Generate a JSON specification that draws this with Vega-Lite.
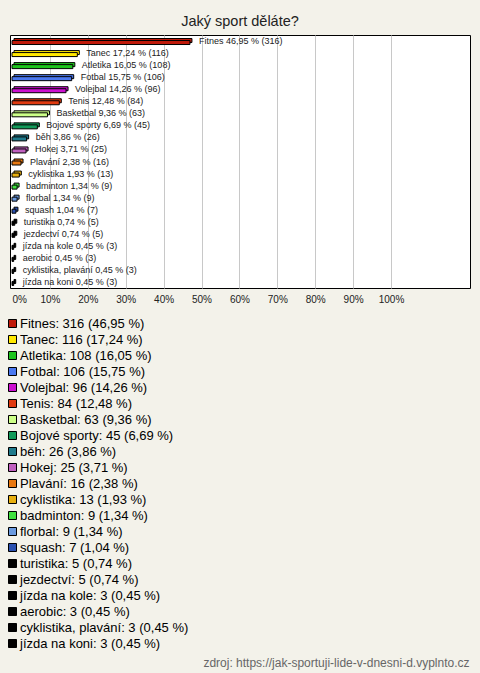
{
  "$schema": "https://vega.github.io/schema/vega-lite/v6.json",
  "autosize": {"type": "none"},
  "width": 460,
  "height": 253,
  "padding": {"left": 10, "top": 35, "right": 10, "bottom": 385},
  "background": "#f3f2ea",
  "title": {
    "text": "Jaký sport děláte?",
    "fontSize": 14.5,
    "fontWeight": "normal",
    "color": "#222222",
    "anchor": "middle",
    "baseline": "alphabetic",
    "offset": -5
  },
  "data": {
    "values": [
      {"rank": 1, "sport": "Fitnes", "count": 316, "pct": 0.4695, "barLabel": "Fitnes 46,95 % (316)", "legend": "Fitnes: 316 (46,95 %)"},
      {"rank": 2, "sport": "Tanec", "count": 116, "pct": 0.1724, "barLabel": "Tanec 17,24 % (116)", "legend": "Tanec: 116 (17,24 %)"},
      {"rank": 3, "sport": "Atletika", "count": 108, "pct": 0.1605, "barLabel": "Atletika 16,05 % (108)", "legend": "Atletika: 108 (16,05 %)"},
      {"rank": 4, "sport": "Fotbal", "count": 106, "pct": 0.1575, "barLabel": "Fotbal 15,75 % (106)", "legend": "Fotbal: 106 (15,75 %)"},
      {"rank": 5, "sport": "Volejbal", "count": 96, "pct": 0.1426, "barLabel": "Volejbal 14,26 % (96)", "legend": "Volejbal: 96 (14,26 %)"},
      {"rank": 6, "sport": "Tenis", "count": 84, "pct": 0.1248, "barLabel": "Tenis 12,48 % (84)", "legend": "Tenis: 84 (12,48 %)"},
      {"rank": 7, "sport": "Basketbal", "count": 63, "pct": 0.0936, "barLabel": "Basketbal 9,36 % (63)", "legend": "Basketbal: 63 (9,36 %)"},
      {"rank": 8, "sport": "Bojové sporty", "count": 45, "pct": 0.0669, "barLabel": "Bojové sporty 6,69 % (45)", "legend": "Bojové sporty: 45 (6,69 %)"},
      {"rank": 9, "sport": "běh", "count": 26, "pct": 0.0386, "barLabel": "běh 3,86 % (26)", "legend": "běh: 26 (3,86 %)"},
      {"rank": 10, "sport": "Hokej", "count": 25, "pct": 0.0371, "barLabel": "Hokej 3,71 % (25)", "legend": "Hokej: 25 (3,71 %)"},
      {"rank": 11, "sport": "Plavání", "count": 16, "pct": 0.0238, "barLabel": "Plavání 2,38 % (16)", "legend": "Plavání: 16 (2,38 %)"},
      {"rank": 12, "sport": "cyklistika", "count": 13, "pct": 0.0193, "barLabel": "cyklistika 1,93 % (13)", "legend": "cyklistika: 13 (1,93 %)"},
      {"rank": 13, "sport": "badminton", "count": 9, "pct": 0.0134, "barLabel": "badminton 1,34 % (9)", "legend": "badminton: 9 (1,34 %)"},
      {"rank": 14, "sport": "florbal", "count": 9, "pct": 0.0134, "barLabel": "florbal 1,34 % (9)", "legend": "florbal: 9 (1,34 %)"},
      {"rank": 15, "sport": "squash", "count": 7, "pct": 0.0104, "barLabel": "squash 1,04 % (7)", "legend": "squash: 7 (1,04 %)"},
      {"rank": 16, "sport": "turistika", "count": 5, "pct": 0.0074, "barLabel": "turistika 0,74 % (5)", "legend": "turistika: 5 (0,74 %)"},
      {"rank": 17, "sport": "jezdectví", "count": 5, "pct": 0.0074, "barLabel": "jezdectví 0,74 % (5)", "legend": "jezdectví: 5 (0,74 %)"},
      {"rank": 18, "sport": "jízda na kole", "count": 3, "pct": 0.0045, "barLabel": "jízda na kole 0,45 % (3)", "legend": "jízda na kole: 3 (0,45 %)"},
      {"rank": 19, "sport": "aerobic", "count": 3, "pct": 0.0045, "barLabel": "aerobic 0,45 % (3)", "legend": "aerobic: 3 (0,45 %)"},
      {"rank": 20, "sport": "cyklistika, plavání", "count": 3, "pct": 0.0045, "barLabel": "cyklistika, plavání 0,45 % (3)", "legend": "cyklistika, plavání: 3 (0,45 %)"},
      {"rank": 21, "sport": "jízda na koni", "count": 3, "pct": 0.0045, "barLabel": "jízda na koni 0,45 % (3)", "legend": "jízda na koni: 3 (0,45 %)"}
    ]
  },
  "encoding": {
    "y": {
      "field": "rank",
      "type": "ordinal",
      "axis": null,
      "scale": {"paddingInner": 0, "paddingOuter": 0}
    },
    "x": {
      "field": "pct",
      "type": "quantitative",
      "scale": {"domain": [0, 1], "range": [2, 381], "clamp": false},
      "axis": {
        "values": [0, 0.1, 0.2, 0.3, 0.4, 0.5, 0.6, 0.7, 0.8, 0.9, 1],
        "format": ".0%",
        "domain": false,
        "ticks": false,
        "grid": true,
        "gridColor": "#c8c8c8",
        "gridWidth": 1,
        "gridOpacity": {"condition": {"test": "datum.value === 0", "value": 0}, "value": 1},
        "labelFontSize": 10,
        "labelColor": "#222222",
        "labelPadding": 6,
        "labelAlign": {"condition": {"test": "datum.value === 0", "value": "left"}, "value": "center"},
        "title": "zdroj: https://jak-sportuji-lide-v-dnesni-d.vyplnto.cz",
        "titleX": 459,
        "titleY": 374,
        "titleAlign": "right",
        "titleAnchor": "end",
        "titleBaseline": "middle",
        "titleFontSize": 12,
        "titleFontWeight": "normal",
        "titleColor": "#666666"
      }
    }
  },
  "layer": [
    {
      "mark": {"type": "bar", "height": 4, "xOffset": 2, "yOffset": -0.5, "stroke": "#000000", "strokeWidth": 1, "opacity": 1},
      "encoding": {
        "color": {
          "field": "legend",
          "type": "nominal",
          "sort": {"field": "rank", "order": "ascending"},
          "scale": {"range": ["#c01a0a", "#ffe800", "#1ec41e", "#4a78f0", "#cc10d0", "#e03a10", "#ccff88", "#129a5a", "#1f7a8c", "#c060c0", "#e87810", "#e8b010", "#40e040", "#6a9ae0", "#2a50b0", "#000000", "#000000", "#000000", "#000000", "#000000", "#000000"]},
          "legend": {
            "orient": "none",
            "legendX": -4,
            "legendY": 282,
            "title": null,
            "symbolType": "square",
            "symbolSize": 64,
            "symbolStrokeColor": "#000000",
            "symbolStrokeWidth": 1,
            "symbolOpacity": 1,
            "symbolLimit": 50,
            "labelFontSize": 13,
            "labelColor": "#000000",
            "labelLimit": 400,
            "labelOffset": 1,
            "rowPadding": 2,
            "padding": 0
          }
        }
      }
    },
    {
      "mark": {"type": "bar", "height": 4, "yOffset": 1.5, "stroke": "#000000", "strokeWidth": 1, "opacity": 1},
      "encoding": {
        "color": {
          "field": "legend",
          "type": "nominal",
          "sort": {"field": "rank", "order": "ascending"}
        }
      }
    },
    {
      "mark": {"type": "text", "align": "left", "baseline": "middle", "dx": 9, "fontSize": 9, "color": "#222222"},
      "encoding": {
        "text": {"field": "barLabel", "type": "nominal"}
      }
    }
  ],
  "config": {
    "font": "Liberation Sans",
    "view": {"stroke": "#000000", "strokeWidth": 1, "fill": "#ffffff"}
  }
}
